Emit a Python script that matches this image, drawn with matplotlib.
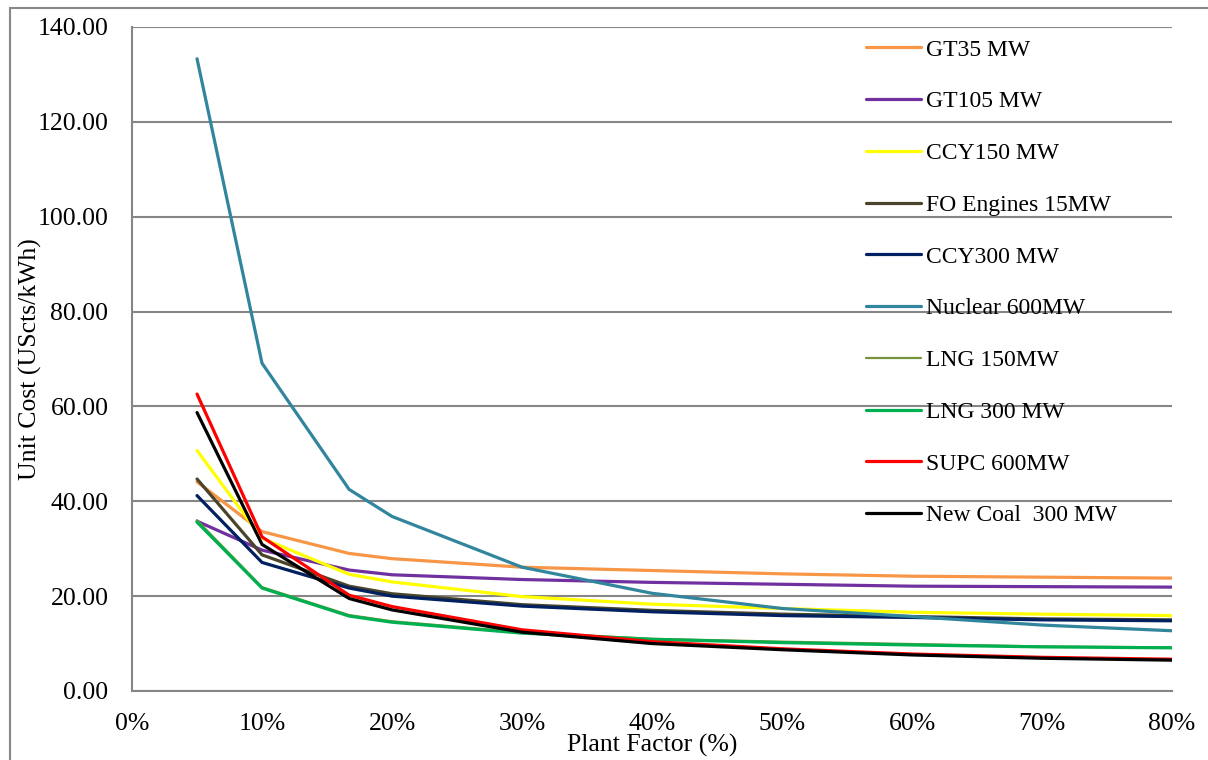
import matplotlib.pyplot as plt
from matplotlib.patches import Rectangle
from matplotlib.ticker import FuncFormatter, MultipleLocator

plt.rcParams['font.family'] = ['Liberation Serif', 'DejaVu Serif']

# Plant factor (%) and unit cost (UScts/kWh) per technology
plant_factor = [5, 10, 16.7, 20, 30, 40, 50, 60, 70, 80]

gt35 = [44.1, 33.6, 29.0, 27.9, 26.1, 25.4, 24.7, 24.2, 24.0, 23.8]
gt105 = [35.8, 29.7, 25.5, 24.5, 23.5, 22.9, 22.5, 22.1, 22.0, 21.9]
ccy150 = [50.7, 32.2, 24.6, 23.0, 19.9, 18.3, 17.4, 16.6, 16.2, 15.9]
fo_engines = [44.7, 28.7, 22.1, 20.5, 18.2, 17.0, 16.2, 15.7, 15.2, 15.0]
ccy300 = [41.2, 27.1, 21.7, 20.0, 17.9, 16.7, 15.9, 15.5, 15.0, 14.8]
nuclear = [133.3, 69.1, 42.5, 36.8, 26.1, 20.6, 17.4, 15.7, 13.9, 12.7]
lng150 = [36.0, 21.9, 16.0, 14.7, 12.4, 11.0, 10.4, 9.9, 9.4, 9.2]
lng300 = [35.6, 21.7, 15.8, 14.5, 12.2, 10.9, 10.2, 9.7, 9.3, 9.1]
supc600 = [62.6, 32.5, 20.2, 17.8, 12.9, 10.4, 8.9, 7.8, 7.1, 6.7]
new_coal = [58.7, 30.9, 19.5, 17.1, 12.4, 10.0, 8.7, 7.6, 6.9, 6.5]

series = [
    ("GT35 MW", gt35, "#F79646"),
    ("GT105 MW", gt105, "#7030A0"),
    ("CCY150 MW", ccy150, "#FFFF00"),
    ("FO Engines 15MW", fo_engines, "#4A452A"),
    ("CCY300 MW", ccy300, "#002060"),
    ("Nuclear 600MW", nuclear, "#31859C"),
    ("LNG 150MW", lng150, "#77933C"),
    ("LNG 300 MW", lng300, "#00B050"),
    ("SUPC 600MW", supc600, "#FF0000"),
    ("New Coal  300 MW", new_coal, "#000000"),
]

fig = plt.figure(figsize=(12.08, 7.6), dpi=100)
ax = fig.add_axes([0.1093, 0.0908, 0.8609, 0.8737])

# outer chart border
fig.add_artist(Rectangle((10 / 1208, -0.1), 1.2, 0.1 + 1 - 8 / 760,
                         transform=fig.transFigure, fill=False,
                         edgecolor="#888888", lw=1.5))

for name, vals, col in series:
    lw = 1.6 if name == "LNG 150MW" else 2.3
    ax.plot(plant_factor, vals, color=col, lw=lw, label=name,
            solid_capstyle='round', solid_joinstyle='miter')

ax.set_xlim(0, 80)
ax.set_ylim(0, 140)
ax.xaxis.set_major_locator(MultipleLocator(10))
ax.yaxis.set_major_locator(MultipleLocator(20))
ax.xaxis.set_major_formatter(FuncFormatter(lambda v, p: f"{v:.0f}%"))
ax.yaxis.set_major_formatter(FuncFormatter(lambda v, p: f"{v:.2f}"))
ax.tick_params(length=0, labelsize=18.5)
ax.tick_params(axis='y', pad=17)
ax.tick_params(axis='x', pad=16)

ax.grid(axis='y', color="#868686", lw=1.5)
ax.set_axisbelow(True)
for s in ['top', 'right']:
    ax.spines[s].set_visible(False)
for s in ['left', 'bottom']:
    ax.spines[s].set_color("#868686")
    ax.spines[s].set_linewidth(1.5)

ax.set_xlabel("Plant Factor (%)", fontsize=18.5)
ax.set_ylabel("Unit Cost (UScts/kWh)", fontsize=18.5)
ax.xaxis.set_label_coords(0.5, -0.066)
ax.yaxis.set_label_coords(-0.098, 0.5)
ax.yaxis.label.set_va('center')
ax.xaxis.label.set_va('center')
ax.xaxis.set_label_coords(0.5, (691 - 745) / 664)

ax.legend(loc='upper left', bbox_to_anchor=(866 / 1208, 1 - 39 / 760),
          bbox_transform=fig.transFigure, frameon=False, fontsize=17,
          handlelength=2.35, handletextpad=0.2, labelspacing=1.28,
          borderpad=0, borderaxespad=0)

fig.savefig("out.png", dpi=100)
